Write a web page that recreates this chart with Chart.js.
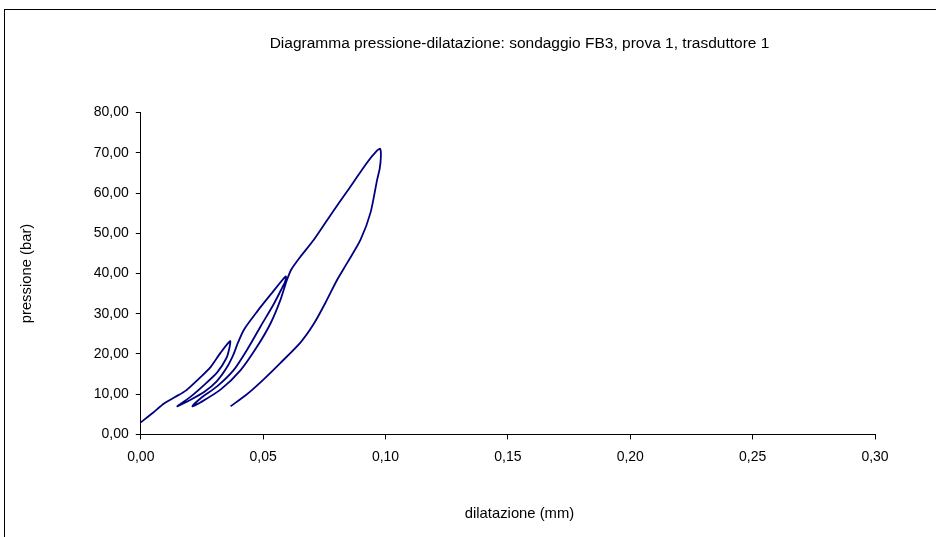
<!DOCTYPE html>
<html>
<head>
<meta charset="utf-8">
<script src="https://cdn.jsdelivr.net/npm/chart.js@4.4.0/dist/chart.umd.min.js"></script>
<style>
  html, body { margin: 0; padding: 0; background: #fff; overflow: hidden; }
  #wrap { width: 936px; height: 537px; overflow: hidden; position: relative; }
  canvas { position: absolute; left: 0; top: 0; }
</style>
</head>
<body>
<div id="wrap"><canvas id="cPress" width="1021" height="537"></canvas></div>
<script>
(function () {
  "use strict";

  // ---- prova 1, trasduttore 1: dilatazione (mm) / pressione (bar), three load-unload cycles ----
  var DILATAZIONE = [
    0.0000, 0.0050, 0.0095, 0.0140, 0.0184, 0.0245, 0.0286, 0.0327, 0.0365,
    0.0362, 0.0350, 0.0313, 0.0257, 0.0204, 0.0149,
    0.0200, 0.0260, 0.0310, 0.0350, 0.0378, 0.0397, 0.0422, 0.0476, 0.0531, 0.0592,
    0.0590, 0.0578, 0.0544, 0.0490, 0.0435, 0.0381, 0.0313, 0.0245, 0.0211,
    0.0245, 0.0327, 0.0408, 0.0476, 0.0531, 0.0571, 0.0596, 0.0615, 0.0650, 0.0707, 0.0775, 0.0844, 0.0925, 0.0966, 0.0978,
    0.0981, 0.0976, 0.0966, 0.0939, 0.0898, 0.0844, 0.0803, 0.0755, 0.0707, 0.0653, 0.0571, 0.0490, 0.0430, 0.0367
  ];
  var PRESSIONE = [
    3.0, 5.4, 7.7, 9.3, 10.9, 14.3, 16.8, 20.4, 23.2,
    21.5, 19.0, 15.5, 12.2, 9.4, 7.0,
    8.5, 10.6, 13.2, 16.5, 19.8, 22.8, 26.1, 30.6, 34.8, 39.3,
    38.0, 36.5, 32.5, 26.9, 21.1, 16.1, 12.0, 9.0, 7.0,
    8.0, 11.2, 16.0, 21.9, 27.7, 33.5, 38.2, 41.0, 44.0, 48.4, 54.5, 60.5, 67.6, 70.6, 71.0,
    69.0, 66.0, 63.4, 55.2, 48.4, 42.7, 38.5, 32.8, 27.5, 22.9, 17.8, 13.0, 9.8, 7.0
  ];
  var X_RANGE = [0, 0.30, 0.05];
  var Y_RANGE = [0, 80, 10];

  var TITLE = "Diagramma pressione-dilatazione: sondaggio FB3, prova 1, trasduttore 1";
  var X_TITLE = "dilatazione (mm)";
  var Y_TITLE = "pressione (bar)";

  var FONT = "'Liberation Sans', Arial, sans-serif";
  var INK = "#000";

  function comma(v) { return Number(v).toFixed(2).replace(".", ","); }

  var pts = DILATAZIONE.map(function (x, i) { return { x: x, y: PRESSIONE[i] }; });

  // plain frame around the whole chart (only the left and top edges are on screen)
  var frame = {
    id: "frame",
    beforeDraw: function (c) {
      var ctx = c.ctx;
      ctx.save();
      ctx.strokeStyle = "#000";
      ctx.lineWidth = 1;
      ctx.strokeRect(4.5, 9.5, 3000, 3000);
      ctx.restore();
    }
  };

  var ctx = document.getElementById("cPress").getContext("2d");
  new Chart(ctx, {
    type: "scatter",
    data: { datasets: [{ data: pts, showLine: true, borderColor: "#000080", borderWidth: 1.8,
      pointRadius: 0, tension: 0.25, fill: false }] },
    options: {
      responsive: false, animation: false, devicePixelRatio: 1,
      layout: { padding: { left: 18, right: 0, top: 0, bottom: 0 } },
      plugins: {
        legend: { display: false }, tooltip: { enabled: false },
        title: { display: true, text: TITLE, color: INK, font: { family: FONT, size: 15.5, weight: "normal" },
          padding: { top: 34, bottom: 60 } },
        subtitle: { display: true, position: "bottom", text: X_TITLE, color: INK,
          font: { family: FONT, size: 14.8, weight: "normal" }, padding: { top: 31, bottom: 14 } }
      },
      scales: {
        x: {
          type: "linear", min: X_RANGE[0], max: X_RANGE[1],
          grid: { drawOnChartArea: false, drawTicks: true, tickLength: 5, color: INK },
          border: { display: true, color: INK, width: 1 },
          ticks: { stepSize: X_RANGE[2], padding: 9, color: INK, maxRotation: 0,
            font: { family: FONT, size: 14 }, callback: comma }
        },
        y: {
          type: "linear", min: Y_RANGE[0], max: Y_RANGE[1],
          grid: { drawOnChartArea: false, drawTicks: true, tickLength: 5, color: INK },
          border: { display: true, color: INK, width: 1 },
          ticks: { stepSize: Y_RANGE[2], padding: 7, color: INK,
            font: { family: FONT, size: 14 }, callback: comma },
          title: { display: true, text: Y_TITLE, color: INK, font: { family: FONT, size: 14.8 },
            padding: { top: 0, bottom: 51 } }
        },
        // empty band on the right, part of the chart that lies outside the window
        side: {
          type: "linear", position: "right", display: true,
          grid: { display: false }, border: { display: false }, ticks: { display: false },
          afterFit: function (s) { s.width = 146; }
        }
      }
    },
    plugins: [frame]
  });
})();
</script>
</body>
</html>
